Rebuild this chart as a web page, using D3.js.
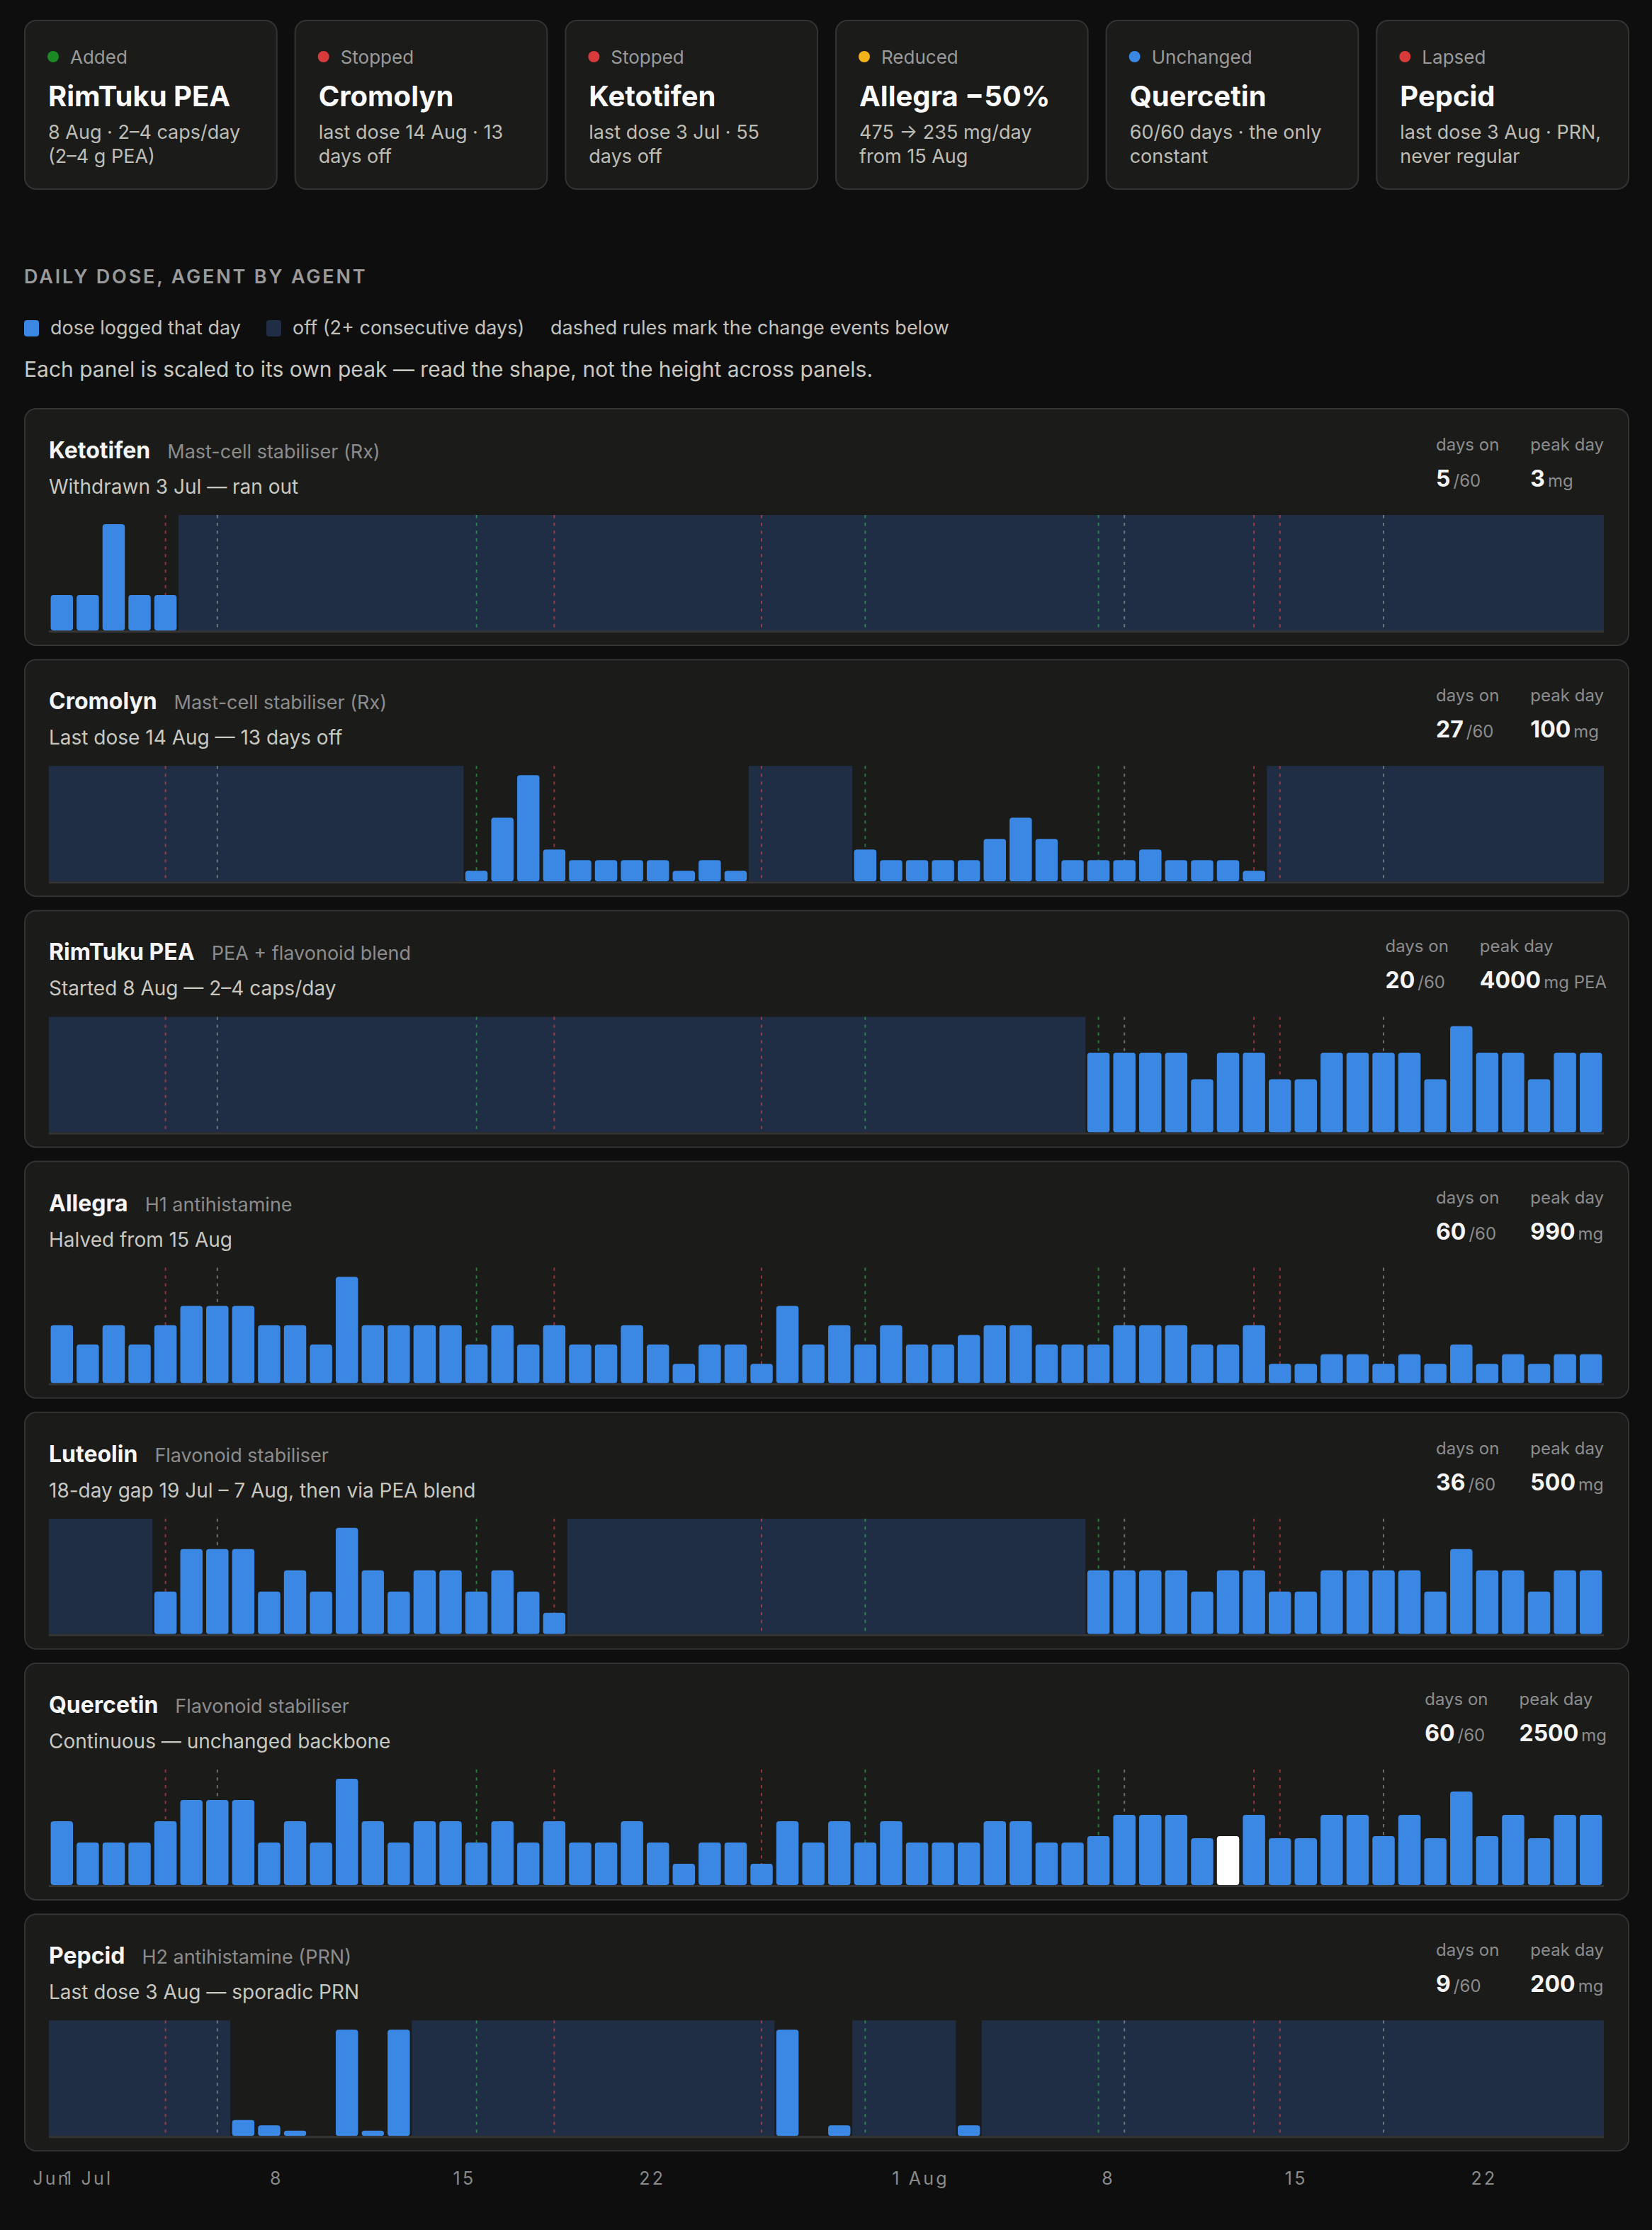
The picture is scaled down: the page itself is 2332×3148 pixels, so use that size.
<!DOCTYPE html>
<html>
<head>
<meta charset="utf-8">
<script src="https://cdn.jsdelivr.net/npm/d3@7"></script>
<style>
  html, body { margin: 0; background: #0e0e0e; }
  svg { display: block; font-family: Inter, "Noto Sans", sans-serif; }
</style>
</head>
<body>
<svg id="chart"></svg>
<script>
/* Daily dose small multiples, one panel per agent */

// ---- data ----
const startDate = new Date(2025, 5, 29);
const endDate = new Date(2025, 7, 28);

const cardStatus = ["Added", "Stopped", "Stopped", "Reduced", "Unchanged", "Lapsed"];
const cardTitles = ["RimTuku PEA", "Cromolyn", "Ketotifen", "Allegra \u221250%", "Quercetin", "Pepcid"];
const cardLines = [
  ["8 Aug \u00b7 2\u20134 caps/day", "(2\u20134 g PEA)"],
  ["last dose 14 Aug \u00b7 13", "days off"],
  ["last dose 3 Jul \u00b7 55", "days off"],
  ["475 \u2192 235 mg/day", "from 15 Aug"],
  ["60/60 days \u00b7 the only", "constant"],
  ["last dose 3 Aug \u00b7 PRN,", "never regular"],
];

const legendLabels = ["dose logged that day", "off (2+ consecutive days)", "dashed rules mark the change events below"];

const agents = ["Ketotifen", "Cromolyn", "RimTuku PEA", "Allegra", "Luteolin", "Quercetin", "Pepcid"];
const agentClasses = [
  "Mast-cell stabiliser (Rx)",
  "Mast-cell stabiliser (Rx)",
  "PEA + flavonoid blend",
  "H1 antihistamine",
  "Flavonoid stabiliser",
  "Flavonoid stabiliser",
  "H2 antihistamine (PRN)",
];
const agentNotes = [
  "Withdrawn 3 Jul \u2014 ran out",
  "Last dose 14 Aug \u2014 13 days off",
  "Started 8 Aug \u2014 2\u20134 caps/day",
  "Halved from 15 Aug",
  "18-day gap 19 Jul \u2013 7 Aug, then via PEA blend",
  "Continuous \u2014 unchanged backbone",
  "Last dose 3 Aug \u2014 sporadic PRN",
];
const agentUnits = ["mg", "mg", "mg PEA", "mg", "mg", "mg", "mg"];

// daily doses, 29 Jun .. 27 Aug
const ketotifen = [
  1, 1, 3, 1, 1, 0, 0, 0, 0, 0,
  0, 0, 0, 0, 0, 0, 0, 0, 0, 0,
  0, 0, 0, 0, 0, 0, 0, 0, 0, 0,
  0, 0, 0, 0, 0, 0, 0, 0, 0, 0,
  0, 0, 0, 0, 0, 0, 0, 0, 0, 0,
  0, 0, 0, 0, 0, 0, 0, 0, 0, 0,
];
const cromolyn = [
  0, 0, 0, 0, 0, 0, 0, 0, 0, 0,
  0, 0, 0, 0, 0, 0, 10, 60, 100, 30,
  20, 20, 20, 20, 10, 20, 10, 0, 0, 0,
  0, 30, 20, 20, 20, 20, 40, 60, 40, 20,
  20, 20, 30, 20, 20, 20, 10, 0, 0, 0,
  0, 0, 0, 0, 0, 0, 0, 0, 0, 0,
];
const rimtuku = [
  0, 0, 0, 0, 0, 0, 0, 0, 0, 0,
  0, 0, 0, 0, 0, 0, 0, 0, 0, 0,
  0, 0, 0, 0, 0, 0, 0, 0, 0, 0,
  0, 0, 0, 0, 0, 0, 0, 0, 0, 0,
  3000, 3000, 3000, 3000, 2000, 3000, 3000, 2000, 2000, 3000,
  3000, 3000, 3000, 2000, 4000, 3000, 3000, 2000, 3000, 3000,
];
const allegra = [
  540, 360, 540, 360, 540, 720, 720, 720, 540, 540,
  360, 990, 540, 540, 540, 540, 360, 540, 360, 540,
  360, 360, 540, 360, 180, 360, 360, 180, 720, 360,
  540, 360, 540, 360, 360, 450, 540, 540, 360, 360,
  360, 540, 540, 540, 360, 360, 540, 180, 180, 270,
  270, 180, 270, 180, 360, 180, 270, 180, 270, 270,
];
const luteolin = [
  0, 0, 0, 0, 200, 400, 400, 400, 200, 300,
  200, 500, 300, 200, 300, 300, 200, 300, 200, 100,
  0, 0, 0, 0, 0, 0, 0, 0, 0, 0,
  0, 0, 0, 0, 0, 0, 0, 0, 0, 0,
  300, 300, 300, 300, 200, 300, 300, 200, 200, 300,
  300, 300, 300, 200, 400, 300, 300, 200, 300, 300,
];
const quercetin = [
  1500, 1000, 1000, 1000, 1500, 2000, 2000, 2000, 1000, 1500,
  1000, 2500, 1500, 1000, 1500, 1500, 1000, 1500, 1000, 1500,
  1000, 1000, 1500, 1000, 500, 1000, 1000, 500, 1500, 1000,
  1500, 1000, 1500, 1000, 1000, 1000, 1500, 1500, 1000, 1000,
  1150, 1650, 1650, 1650, 1100, 1150, 1650, 1100, 1100, 1650,
  1650, 1150, 1650, 1100, 2200, 1150, 1650, 1100, 1650, 1650,
];
const pepcid = [
  0, 0, 0, 0, 0, 0, 0, 30, 20, 10,
  0, 200, 10, 200, 0, 0, 0, 0, 0, 0,
  0, 0, 0, 0, 0, 0, 0, 0, 200, 0,
  20, 0, 0, 0, 0, 20, 0, 0, 0, 0,
  0, 0, 0, 0, 0, 0, 0, 0, 0, 0,
  0, 0, 0, 0, 0, 0, 0, 0, 0, 0,
];
const agentDoses = [ketotifen, cromolyn, rimtuku, allegra, luteolin, quercetin, pepcid];

// change events (day index) and kind
const eventDays = [4, 6, 16, 19, 27, 31, 40, 41, 46, 47, 51];
const eventKinds = ["stop", "note", "start", "stop", "stop", "start", "start", "note", "stop", "stop", "note"];

// highlighted (hovered) cell
const highlightAgent = "Quercetin";
const highlightDay = 45;

// axis
const tickDates = [
  new Date(2025, 5, 29), new Date(2025, 6, 1), new Date(2025, 6, 8), new Date(2025, 6, 15),
  new Date(2025, 6, 22), new Date(2025, 7, 1), new Date(2025, 7, 8), new Date(2025, 7, 15),
  new Date(2025, 7, 22),
];
const tickLabels = ["29 Jun", "1 Jul", "8", "15", "22", "1 Aug", "8", "15", "22"];

// ---- drawing ----
const W = 1166, H = 1574;
const left = 17, right = 1150;
const blue = "#3a88e4", offFill = "#1f2e44", panelFill = "#1b1b1a", border = "#333333";
const statusColor = { Added: "#1c8a24", Stopped: "#d93a3a", Reduced: "#f2b21c", Unchanged: "#3a88e4", Lapsed: "#d93a3a" };
const eventColor = { stop: "#e5484d", start: "#34c759", note: "#a3a3a3" };

const svg = d3.select("#chart")
  .attr("viewBox", [0, 0, W, H])
  .attr("width", W * 2)
  .attr("height", H * 2);

// summary cards
const cardGap = 12,
  cardW = (right - left - 5 * cardGap) / 6;

const cards = svg.append("g")
  .selectAll("g")
  .data(cardTitles)
  .join("g")
  .attr("transform", (d, i) => `translate(${left + i * (cardW + cardGap)},14)`);

cards.append("rect")
  .attr("x", 0.5).attr("y", 0.5)
  .attr("width", cardW - 1).attr("height", 119)
  .attr("rx", 8)
  .attr("fill", panelFill)
  .attr("stroke", border);

cards.append("circle")
  .attr("cx", 20.5).attr("cy", 26)
  .attr("r", 4)
  .attr("fill", (d, i) => statusColor[cardStatus[i]]);

cards.append("text")
  .attr("x", 32.5).attr("y", 31)
  .attr("fill", "#9a9a9a")
  .style("font-size", "13px")
  .text((d, i) => cardStatus[i]);

cards.append("text")
  .attr("x", 17).attr("y", 61)
  .attr("fill", "#fafafa")
  .style("font-size", "20px")
  .style("font-weight", 700)
  .text((d) => d);

cards.each(function (d, i) {
  d3.select(this)
    .selectAll(".sub")
    .data(cardLines[i])
    .join("text")
    .attr("class", "sub")
    .attr("x", 17)
    .attr("y", (t, j) => 84 + j * 17)
    .attr("fill", "#bdbdb5")
    .style("font-size", "13.5px")
    .text((t) => t);
});

// heading + legend
svg.append("text")
  .attr("x", left).attr("y", 200)
  .attr("fill", "#9a9a9a")
  .style("font-size", "13.5px")
  .style("font-weight", 600)
  .style("letter-spacing", "1.4px")
  .text("DAILY DOSE, AGENT BY AGENT");

const legendX = [17, 188, 388.5];
const legendSwatch = [blue, offFill, null];
legendLabels.forEach((lab, i) => {
  let tx = legendX[i];
  if (legendSwatch[i]) {
    svg.append("rect")
      .attr("x", legendX[i]).attr("y", 226)
      .attr("width", 10.5).attr("height", 11.5)
      .attr("rx", 2)
      .attr("fill", legendSwatch[i]);
    tx += 18.5;
  }
  svg.append("text")
    .attr("x", tx).attr("y", 236)
    .attr("fill", "#c2c2ba")
    .style("font-size", "13.5px")
    .text(lab);
});

svg.append("text")
  .attr("x", left).attr("y", 266)
  .attr("fill", "#c8c8c0")
  .style("font-size", "15px")
  .text("Each panel is scaled to its own peak \u2014 read the shape, not the height across panels.");

// panels
const panelTop = 288, panelPitch = 177.1, panelH = 168;
const plotL = 34.5, plotR = 1132, plotTop = 75.5, plotBot = 157;

const cell = d3.scaleBand()
  .domain(d3.range(ketotifen.length))
  .range([plotL, plotR]);
const bw = cell.bandwidth();

agents.forEach((name, k) => {
  const vals = agentDoses[k];
  const g = svg.append("g").attr("transform", `translate(0,${panelTop + k * panelPitch})`);

  g.append("rect")
    .attr("x", left + 0.5).attr("y", 0.5)
    .attr("width", right - left - 1).attr("height", panelH - 1)
    .attr("rx", 8)
    .attr("fill", panelFill)
    .attr("stroke", border);

  const title = g.append("text")
    .attr("x", plotL).attr("y", 35.5)
    .attr("fill", "#f5f5f5")
    .style("font-size", "16px")
    .style("font-weight", 700)
    .text(name);
  const tw = title.node().getComputedTextLength();

  g.append("text")
    .attr("x", plotL + tw + 12).attr("y", 35.5)
    .attr("fill", "#8c8c8c")
    .style("font-size", "13.5px")
    .text(agentClasses[k]);

  g.append("text")
    .attr("x", plotL).attr("y", 60.5)
    .attr("fill", "#c8c8c0")
    .style("font-size", "14px")
    .text(agentNotes[k]);

  // stats, right aligned to the plot edge
  const peak = d3.max(vals);
  const daysOn = vals.filter((v) => v > 0).length;

  function stat(label, big, small) {
    const s = g.append("g");
    const l = s.append("text").attr("y", 30)
      .attr("fill", "#8c8c8c").style("font-size", "12px").text(label);
    const v = s.append("text").attr("y", 55.5).attr("fill", "#f5f5f5");
    v.append("tspan").style("font-size", "16px").style("font-weight", 700).text(big);
    v.append("tspan").attr("dx", 2).attr("fill", "#8c8c8c").style("font-size", "12px").text(small);
    const w = Math.max(l.node().getComputedTextLength(), v.node().getComputedTextLength());
    return { s, w };
  }
  const pk = stat("peak day", peak, agentUnits[k]);
  const dn = stat("days on", daysOn, "/" + vals.length);
  pk.s.attr("transform", `translate(${plotR - pk.w},0)`);
  dn.s.attr("transform", `translate(${plotR - pk.w - 22 - dn.w},0)`);

  const y = d3.scaleLinear()
    .domain([0, peak])
    .range([plotBot, plotTop + 6.5]);

  // off runs (2+ consecutive zero days)
  const runs = [];
  let start = null;
  vals.forEach((v, i) => {
    if (v === 0 && start === null) start = i;
    if ((v !== 0 || i === vals.length - 1) && start !== null) {
      const end = v === 0 ? i : i - 1;
      if (end - start >= 1) runs.push([start, end]);
      start = null;
    }
  });

  g.append("g")
    .selectAll("rect")
    .data(runs)
    .join("rect")
    .attr("x", (d) => cell(d[0]))
    .attr("y", plotTop)
    .attr("width", (d) => cell(d[1]) + bw - cell(d[0]))
    .attr("height", plotBot - plotTop)
    .attr("fill", offFill);

  g.append("g")
    .selectAll("line")
    .data(eventDays)
    .join("line")
    .attr("x1", (d) => cell(d) + bw / 2)
    .attr("x2", (d) => cell(d) + bw / 2)
    .attr("y1", plotTop)
    .attr("y2", plotBot)
    .attr("stroke", (d, i) => eventColor[eventKinds[i]])
    .attr("stroke-opacity", (d, i) => (eventKinds[i] === "start" ? 0.55 : 0.6))
    .attr("stroke-width", 1)
    .attr("stroke-dasharray", "2.2,3.3");

  g.append("g")
    .selectAll("rect")
    .data(vals.map((v, i) => ({ v, i })).filter((d) => d.v > 0))
    .join("rect")
    .attr("x", (d) => cell(d.i) + bw * 0.07)
    .attr("width", bw * 0.86)
    .attr("y", (d) => y(d.v))
    .attr("height", (d) => plotBot - y(d.v))
    .attr("rx", 2)
    .attr("fill", (d) => (name === highlightAgent && d.i === highlightDay ? "#ffffff" : blue));

  g.append("line")
    .attr("x1", plotL).attr("x2", plotR)
    .attr("y1", plotBot + 0.75).attr("y2", plotBot + 0.75)
    .attr("stroke", "#353535")
    .attr("stroke-width", 1.5);
});

// shared date axis
const xTime = d3.scaleTime()
  .domain([startDate, endDate])
  .range([24.2, 1160.6]);

svg.append("defs")
  .append("clipPath")
  .attr("id", "axclip")
  .append("rect")
  .attr("x", left).attr("y", 1522)
  .attr("width", right - left).attr("height", 50);

const ax = svg.append("g")
  .attr("clip-path", "url(#axclip)")
  .append("g")
  .attr("transform", "translate(0,1530)")
  .call(d3.axisBottom(xTime).tickValues(tickDates).tickFormat((d, i) => tickLabels[i]).tickSize(0).tickPadding(3));

ax.attr("font-family", null).attr("font-size", null);
ax.select(".domain").remove();
ax.selectAll("text")
  .attr("fill", "#8a8a8a")
  .style("font-size", "12.5px")
  .style("letter-spacing", "1.6px");
</script>
</body>
</html>
